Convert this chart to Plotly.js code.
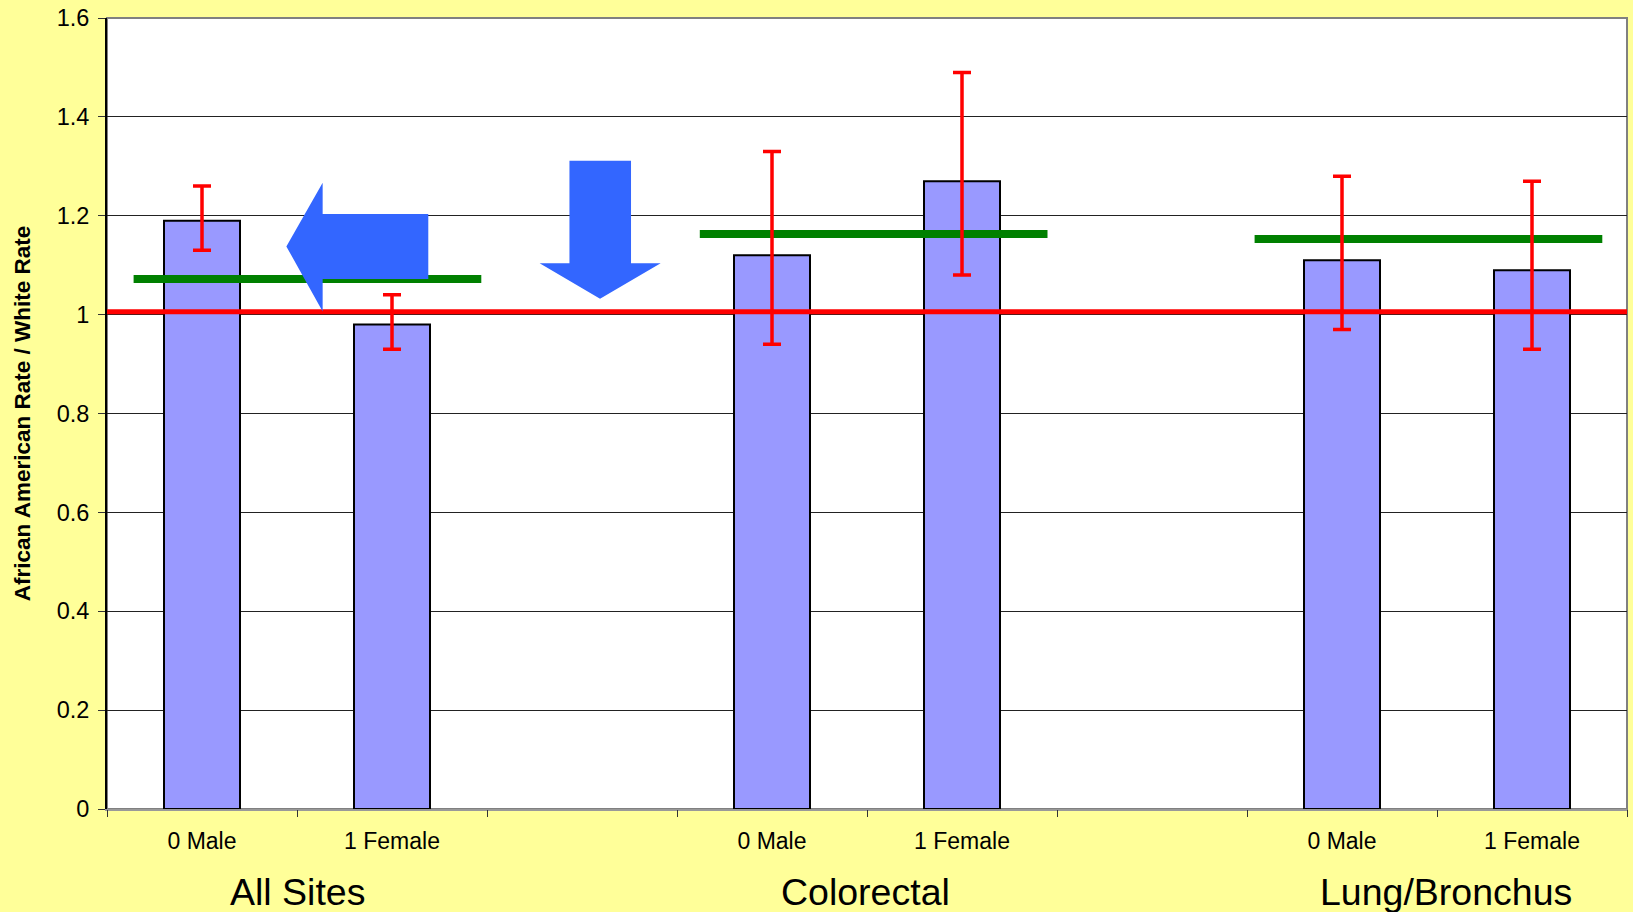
<!DOCTYPE html>
<html>
<head>
<meta charset="utf-8">
<script src="https://cdn.plot.ly/plotly-3.0.1.min.js"></script>
<style>html,body{margin:0;padding:0;background:#FFFF99;}#chart{width:1633px;height:912px;}</style>
</head>
<body>
<div id="chart"></div>
<script>
// ---- data ----
const groups = ['All Sites', 'Colorectal', 'Lung/Bronchus'];
const sexes = ['0 Male', '1 Female'];
// ratio African American / White, per group then sex
const ratios = [1.19, 0.98, 1.12, 1.27, 1.11, 1.09];
const upperCI = [1.26, 1.04, 1.33, 1.49, 1.28, 1.27];
const lowerCI = [1.13, 0.93, 0.94, 1.08, 0.97, 0.93];
// group-level (green) reference values and their drawn extents (in category units, relative to group's first slot)
const groupLevel = [1.072, 1.163, 1.153];
const groupLineStart = [-0.36, -0.38, -0.46];
const groupLineEnd = [1.47, 1.45, 1.37];
// overall reference line (equal rates)
const refValue = 1.006;
const yTicks = [0, 0.2, 0.4, 0.6, 0.8, 1, 1.2, 1.4, 1.6];

// ---- build ----
const slotsPerGroup = 3; // two sexes plus a spacer
const xPos = [], xLabels = [];
groups.forEach((g, gi) => sexes.forEach((s, si) => { xPos.push(gi * slotsPerGroup + si); xLabels.push(s); }));
const nSlots = groups.length * slotsPerGroup - 1; // 8 slots (last spacer dropped)
const xRange = [-0.5, nSlots - 0.5];
const boundaries = [];
for (let i = 0; i <= nSlots; i++) boundaries.push(i - 0.5);

const font = 'Liberation Sans, Arial, sans-serif';
const traces = [];
traces.push({
  type: 'bar', x: xPos, y: ratios, width: 0.4,
  marker: {color: '#9999FF', line: {color: '#000000', width: 2}},
  hoverinfo: 'x+y', showlegend: false
});
groups.forEach((g, gi) => {
  traces.push({
    type: 'scatter', mode: 'lines',
    x: [gi * slotsPerGroup + groupLineStart[gi], gi * slotsPerGroup + groupLineEnd[gi]],
    y: [groupLevel[gi], groupLevel[gi]],
    line: {color: '#008000', width: 8}, showlegend: false, hoverinfo: 'y'
  });
});
traces.push({
  type: 'scatter', mode: 'markers', x: xPos, y: ratios,
  marker: {size: 1, opacity: 0},
  error_y: {type: 'data', symmetric: false,
    array: upperCI.map((u, i) => u - ratios[i]),
    arrayminus: lowerCI.map((l, i) => ratios[i] - l),
    color: '#FF0000', thickness: 3.5, width: 9},
  showlegend: false, hoverinfo: 'y'
});
// invisible trace so the boundary-tick axis is drawn
traces.push({
  type: 'scatter', mode: 'markers', xaxis: 'x2', yaxis: 'y',
  x: boundaries, y: boundaries.map(() => 0),
  marker: {size: 1, opacity: 0}, showlegend: false, hoverinfo: 'skip'
});

const groupLabelShift = [0, -2, 9];
const annotations = groups.map((g, gi) => ({
  x: gi * slotsPerGroup + 0.5, xref: 'x', y: -0.1054, yref: 'paper',
  xshift: groupLabelShift[gi],
  yanchor: 'middle', xanchor: 'center', showarrow: false,
  text: g, font: {family: font, size: 37.5, color: '#000000'}
}));

const shapes = [
  // plot area border
  {type: 'rect', xref: 'paper', yref: 'paper', x0: 0, x1: 1, y0: 0, y1: 1,
   line: {color: '#808080', width: 2}, layer: 'below'},
  // reference line at equal rates
  {type: 'line', xref: 'paper', yref: 'y', x0: 0, x1: 1, y0: refValue, y1: refValue,
   line: {color: '#FF0000', width: 5}, layer: 'above'},
  // left-pointing arrow
  {type: 'path', xref: 'x', yref: 'y', layer: 'above', fillcolor: '#3366FF', line: {width: 0},
   path: 'M 0.444,1.138 L 0.635,1.267 L 0.635,1.2035 L 1.191,1.2035 L 1.191,1.072 L 0.635,1.072 L 0.635,1.0065 Z'},
  // down-pointing arrow
  {type: 'path', xref: 'x', yref: 'y', layer: 'above', fillcolor: '#3366FF', line: {width: 0},
   path: 'M 1.934,1.311 L 2.258,1.311 L 2.258,1.104 L 2.414,1.104 L 2.095,1.032 L 1.777,1.104 L 1.934,1.104 Z'}
];

const layout = {
  width: 1633, height: 912,
  margin: {l: 107, r: 6, t: 18, b: 103},
  paper_bgcolor: '#FFFF99', plot_bgcolor: '#FFFFFF',
  font: {family: font, color: '#000000'},
  showlegend: false,
  xaxis: {
    range: xRange, tickmode: 'array', tickvals: xPos, ticktext: xLabels,
    ticks: '', showgrid: false, zeroline: false,
    showline: true, linecolor: '#999999', linewidth: 2,
    tickfont: {family: font, size: 23, color: '#000000'}, ticklabelstandoff: 10
  },
  xaxis2: {
    overlaying: 'x', anchor: 'y', side: 'bottom',
    range: xRange, tickmode: 'array', tickvals: boundaries,
    ticks: 'outside', ticklen: 7, tickcolor: '#333333', tickwidth: 1,
    showticklabels: false, showgrid: false, zeroline: false, showline: false
  },
  yaxis: {
    range: [0, 1.6], tickmode: 'array', tickvals: yTicks,
    ticks: 'outside', ticklen: 7, tickcolor: '#333333',
    showgrid: true, gridcolor: '#222222', gridwidth: 1, zeroline: false,
    showline: true, linecolor: '#000000', linewidth: 2,
    tickfont: {family: font, size: 23.5, color: '#000000'}, ticklabelstandoff: 4,
    title: {text: 'African American Rate / White Rate', standoff: 20,
            font: {family: font, size: 22.5, color: '#000000', weight: 'bold'}}
  },
  annotations: annotations,
  shapes: shapes
};
Plotly.newPlot('chart', traces, layout, {displayModeBar: false, staticPlot: true});
</script>
</body>
</html>
